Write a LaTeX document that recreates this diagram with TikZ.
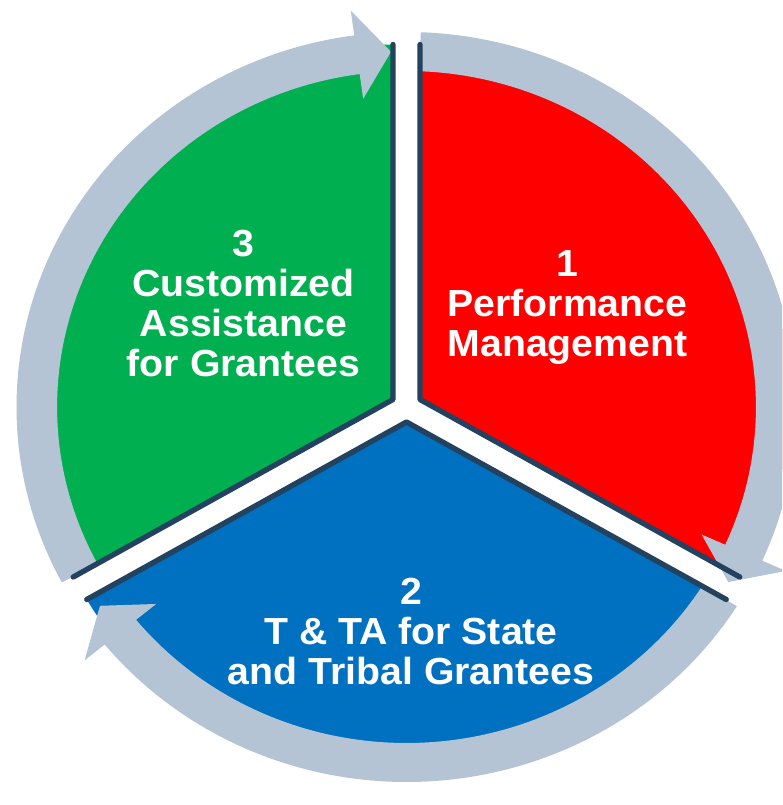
\documentclass[tikz,border=0pt]{standalone}
\usepackage{fontspec}
\setmainfont{Liberation Sans}
\usetikzlibrary{calc}
\definecolor{bandcol}{HTML}{B4C4D4}
\definecolor{edgecol}{HTML}{22425F}
\definecolor{redfill}{HTML}{FF0000}
\definecolor{greenfill}{HTML}{00B050}
\definecolor{bluefill}{HTML}{0070C0}
\tikzset{
  sector/.style={draw=none},
  band/.style={fill=bandcol, draw=none},
  edgeline/.style={draw=edgecol, line width=4, line cap=round, line join=round},
  label/.style={text=white, font=\bfseries\fontsize{28.3}{30}\selectfont, align=center, inner sep=0pt, anchor=north, transform shape}
}
\begin{document}
\begin{tikzpicture}[x=0.75pt, y=0.75pt, xscale=1.04]
\useasboundingbox (-390.87,-398) rectangle (361.06,407);
\clip (-390.87,-398) rectangle (361.06,407);
% sector centres (exploded)
\coordinate (c1) at (13,7.5);
\coordinate (c2) at (0,-15);
\coordinate (c3) at (-13,7.5);
% sectors
\fill[redfill] (c1) -- ++(90:355) arc[start angle=90, end angle=-30, radius=355] -- cycle;
\fill[bluefill] (c2) -- ++(-30:355) arc[start angle=-30, end angle=-150, radius=355] -- cycle;
\fill[greenfill] (c3) -- ++(210:355) arc[start angle=210, end angle=90, radius=355] -- cycle;
% circular arrow bands
\fill[band] (87.9:375) arc[start angle=87.9, end angle=-24.2, radius=375]
  -- (-24.2:400) -- (-29.5:355.5) -- (-24.2:311) -- (-24.2:336)
  arc[start angle=-24.2, end angle=87.9, radius=336] -- cycle;
\fill[band] (-32.1:375) arc[start angle=-32.1, end angle=-140.7, radius=375]
  -- (-140.7:400) -- (-146:355.5) -- (-140.7:311) -- (-140.7:336)
  arc[start angle=-140.7, end angle=-32.1, radius=336] -- cycle;
\fill[band] (207.9:375) arc[start angle=207.9, end angle=97.7, radius=375]
  -- (97.7:400) -- (92.4:355.5) -- (97.7:311) -- (97.7:336)
  arc[start angle=97.7, end angle=207.9, radius=336] -- cycle;
% dark edges
\draw[edgeline] (c1) ++(90:355) -- (c1) -- ++(-30:355);
\draw[edgeline] (c2) ++(-30:355) -- (c2) -- ++(-150:355);
\draw[edgeline] (c3) ++(210:355) -- (c3) -- ++(90:355);
% labels
\node[label] (t1) at (154.8,157) {1\\Performance\\Management};
\node[label] (t2) at (4.3,-171) {2\\T \& TA for State\\and Tribal Grantees};
\node[label] (t3) at (-156.7,177) {3\\Customized\\Assistance\\for Grantees};
\end{tikzpicture}
\end{document}
